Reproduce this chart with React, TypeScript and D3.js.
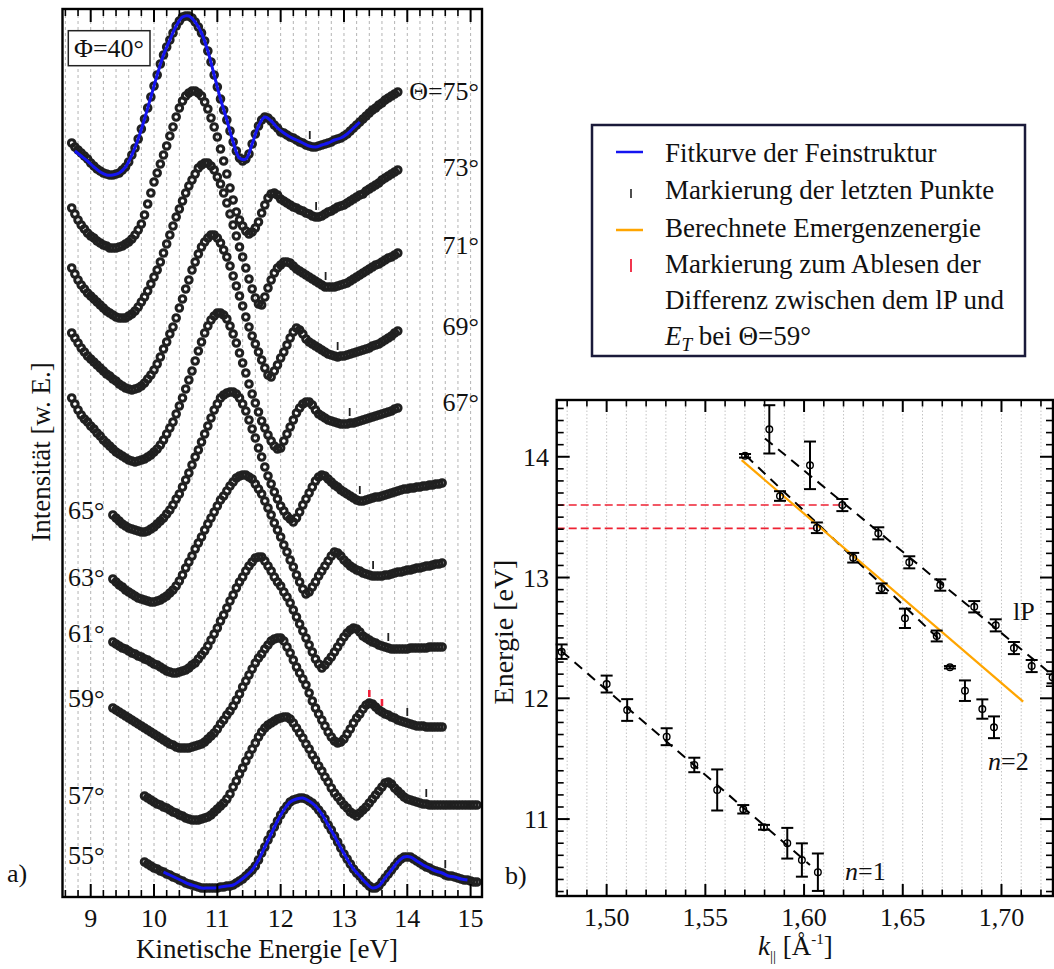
import React from 'react';
import * as d3 from 'd3';

// ---------------- Data: left panel (a) ----------------
const angleLabels = ['Θ=75°', '73°', '71°', '69°', '67°', '65°', '63°', '61°', '59°', '57°', '55°'];
const energyTicks = [9, 10, 11, 12, 13, 14, 15];
const curveStartE = [8.7, 8.7, 8.7, 8.7, 8.7, 9.35, 9.35, 9.35, 9.35, 9.85, 9.85];
const stepE = 0.05;

const c75 = [757,753,750,747,744,741,737,734,731,729,727,726,725,725,726,727,730,733,738,745,752,761,771,781,792,803,814,825,836,845,853,860,867,874,879,883,884,884,882,878,873,867,859,849,838,825,813,801,790,780,769,758,749,742,739,741,746,756,766,774,780,783,782,779,775,772,768,767,765,763,762,760,758,757,755,754,753,753,754,755,756,757,758,760,761,762,764,766,769,772,775,778,781,784,787,790,792,795,797,800,802,804,806,808];
const c73 = [692,686,680,675,671,667,664,662,659,657,655,654,652,652,652,653,654,656,658,661,665,670,676,685,696,707,718,727,736,745,754,764,773,783,792,799,804,807,809,809,807,804,798,791,782,773,763,751,739,726,712,700,688,680,674,669,666,668,672,678,687,695,702,706,707,705,701,699,697,695,693,692,690,689,687,686,684,683,683,684,686,688,689,691,693,694,695,697,699,701,703,705,706,709,711,713,715,717,720,722,724,726,728,730];
const c71 = [632,626,620,615,611,607,604,601,598,595,592,589,587,585,583,582,582,582,584,586,589,593,598,603,609,616,623,630,638,647,656,665,674,683,691,699,707,714,720,726,732,735,737,737,734,730,723,716,707,697,686,675,664,653,643,632,621,611,602,596,595,603,612,620,627,632,635,638,638,637,634,631,629,627,625,623,621,619,617,615,613,613,613,613,614,615,616,617,619,621,623,625,627,629,631,633,635,636,638,640,642,643,645,647];
const c69 = [567,562,557,552,548,544,541,538,535,532,529,526,524,521,519,516,514,512,511,510,511,512,514,517,521,525,530,536,543,551,558,566,573,582,592,601,611,620,630,638,646,653,658,662,665,665,662,657,650,643,634,624,614,604,594,583,573,564,556,548,540,532,525,523,529,535,542,548,555,562,568,572,570,566,561,558,556,554,552,550,548,546,545,544,543,544,544,545,546,547,548,549,550,551,552,554,555,556,558,560,562,564,567,569];
const c67 = [502,496,490,485,481,478,474,471,467,464,460,457,454,451,448,446,444,442,440,439,438,439,440,441,443,445,448,451,455,460,466,472,478,486,494,502,511,520,529,539,549,558,567,574,580,584,587,587,585,581,574,566,557,547,537,527,516,506,497,488,479,472,465,459,454,451,452,459,466,473,480,487,492,496,498,498,495,490,486,484,482,480,479,478,477,476,476,476,477,477,478,479,480,481,482,483,484,485,486,487,488,489,491,492];
const c65 = [385,382,379,376,374,372,371,370,369,368,368,369,371,373,376,379,382,386,390,395,401,406,413,420,427,435,443,450,458,466,474,482,490,496,502,505,507,508,508,506,502,496,489,480,471,462,452,443,433,424,416,408,401,394,389,384,381,378,382,388,395,401,407,413,419,423,425,424,421,418,415,413,410,408,406,404,402,400,399,399,400,401,402,403,403,404,405,406,407,408,409,410,411,411,412,412,413,413,414,414,415,415,416,416,417];
const c63 = [321,318,315,313,310,308,306,304,302,301,300,299,298,298,299,300,302,304,307,310,314,319,325,332,338,344,351,357,363,370,376,382,388,394,400,404,409,414,418,422,424,425,425,423,421,416,411,406,399,392,385,377,370,363,355,348,340,333,325,318,311,306,308,313,318,324,329,334,339,344,348,347,344,340,337,334,332,330,329,327,326,325,324,324,324,324,325,325,326,327,328,328,329,330,330,331,332,332,333,334,334,335,336,336,337];
const c61 = [258,256,254,252,251,249,247,246,244,243,241,240,238,236,235,233,231,229,228,227,227,228,229,230,232,235,237,241,245,249,254,260,266,272,279,285,292,299,305,312,318,323,329,334,338,342,343,343,339,334,329,323,318,314,308,303,297,290,283,276,269,262,255,248,241,236,232,235,239,243,248,253,258,263,267,270,272,271,268,264,262,260,258,257,255,254,253,252,251,251,251,251,251,251,252,252,252,252,252,252,253,253,253,253,253];
const c59 = [192,190,188,186,184,182,180,178,176,174,172,170,168,166,164,162,160,158,156,155,153,152,152,152,152,153,154,155,156,158,161,164,167,171,176,180,185,189,194,200,206,213,219,225,231,237,242,246,251,255,259,261,262,262,259,253,247,240,233,227,221,215,207,199,192,186,180,174,168,163,159,157,158,161,166,171,177,182,186,191,195,197,196,193,190,188,186,185,183,182,180,179,178,177,176,175,174,174,174,173,173,173,173,173,173];
const c57 = [104,102,100,98,96,95,93,92,90,88,87,85,84,82,81,80,80,80,81,82,83,85,88,91,94,97,101,106,113,119,126,132,139,145,151,157,163,168,172,175,177,179,181,182,183,183,181,177,172,167,162,156,151,145,140,134,129,123,118,112,107,103,99,95,92,88,86,84,87,90,93,97,101,105,109,113,117,118,116,112,109,106,103,101,100,99,98,97,96,96,95,95,95,95,95,95,95,95,95,95,95,95,95,95,95,95];
const c55 = [38,36,34,32,31,29,28,26,25,23,22,20,19,17,16,15,14,13,12,12,12,12,12,12,13,13,14,14,15,17,19,21,24,27,30,34,40,47,53,60,66,73,79,85,90,94,98,100,101,102,102,101,99,97,94,90,86,81,75,70,64,58,52,46,41,36,31,27,24,20,17,14,12,12,14,18,22,26,30,34,38,41,43,43,43,41,39,37,35,33,32,30,29,28,27,25,24,24,23,22,21,20,20,19,18,18];

const markerE = [12.46, 12.56, 12.71, 12.9, 13.09, 13.25, 13.46, 13.7, 14.0, 14.3, 14.6];
const redMarkE59 = [13.4, 13.6];

const fitStep = 0.1;
const fit75Start = 8.75;
const fit75 = [749,744,739,733,728,725,725,727,733,745,761,781,803,825,845,860,874,883,884,878,867,849,825,801,780,758,742,741,756,774,783,779,772,767,763,760,757,754,753,755,757,760,762,766,772,778];
const fit55Start = 10.15;
const fit55 = [28,25,22,19,16,14,12,12,12,13,14,15,19,24,30,40,53,66,79,90,98,101,102,99,94,86,75,64,52,41,31,24,17,12,14,22,30,38,43,43,39,35,32,29,27,24,23,21,20];

// ---------------- Data: right panel (b) ----------------
const kTicks = [1.5, 1.55, 1.6, 1.65, 1.7];
const eTicks = [11, 12, 13, 14];

const n1K = [1.4772, 1.5, 1.5104, 1.5304, 1.5444, 1.556, 1.5692, 1.5797, 1.5915, 1.5989, 1.607];
const n1E = [12.386, 12.118, 11.903, 11.682, 11.448, 11.241, 11.081, 10.932, 10.8, 10.661, 10.56];
const n1Err = [0.06, 0.07, 0.09, 0.07, 0.06, 0.17, 0.035, 0.02, 0.127, 0.138, 0.155];

const n2K = [1.5701, 1.5878, 1.6065, 1.6249, 1.6393, 1.6511, 1.6672, 1.6739, 1.6815, 1.6903, 1.6962];
const n2E = [14.008, 13.675, 13.412, 13.164, 12.911, 12.662, 12.516, 12.257, 12.063, 11.911, 11.76];
const n2Err = [0.015, 0.04, 0.044, 0.04, 0.04, 0.08, 0.045, 0.01, 0.085, 0.08, 0.09];

const lPK = [1.5824, 1.603, 1.6194, 1.6376, 1.6533, 1.669, 1.6862, 1.6971, 1.7063, 1.7153, 1.7259];
const lPE = [14.227, 13.929, 13.6, 13.366, 13.126, 12.938, 12.758, 12.604, 12.416, 12.267, 12.174];
const lPErr = [0.2, 0.197, 0.05, 0.05, 0.05, 0.047, 0.047, 0.05, 0.05, 0.05, 0.05];

const n1LineK = [1.4772, 1.603];
const n1LineE = [12.39, 10.62];
const n2LineK = [1.5705, 1.669];
const n2LineE = [14.01, 12.48];
const lPLineK = [1.5802, 1.726];
const lPLineE = [14.152, 12.19];
const emergK = [1.5684, 1.711];
const emergE = [13.972, 11.972];
const redLevelsE = [13.6, 13.407];
const redEndK = [1.6195, 1.6055];

const legendLabels = [
  'Fitkurve der Feinstruktur',
  'Markierung der letzten Punkte',
  'Berechnete Emergenzenergie',
  'Markierung zum Ablesen der',
  'Differenz zwischen dem lP und',
];

const FONT = "'Liberation Serif', 'Times New Roman', Times, serif";

export default function App() {
  const curves = [c75, c73, c71, c69, c67, c65, c63, c61, c59, c57, c55];

  const xL = d3.scaleLinear().domain([8.5545, 15.18]).range([62.5, 482]);
  const yL = d3.scaleLinear().domain([3, 891]).range([897, 9]);
  const xR = d3.scaleLinear().domain([1.4747, 1.7261]).range([556.7, 1053]);
  const yR = d3.scaleLinear().domain([10.363, 14.47]).range([896, 400]);

  const L = { x0: 62.5, x1: 482, y0: 9, y1: 897 };
  const R = { x0: 556.7, x1: 1053, y0: 400, y1: 896 };

  const gridL = d3.range(43, 76).map((i) => i * 0.2);
  const minorL = gridL.filter((v) => Math.abs(v - Math.round(v)) > 1e-6);
  const gridR = d3.range(148, 173).map((i) => i / 100);
  const minorRx = gridR.filter((v) => Math.round(v * 100) % 5 !== 0);
  const minorRy = d3.range(104, 145).map((i) => i / 10).filter((v) => Math.abs(v - Math.round(v)) > 1e-6);

  const fitLine = d3.line<number>().curve(d3.curveCatmullRom);

  const fitPath = (vals: number[], start: number) =>
    fitLine.x((_, i) => xL(start + i * fitStep)).y((v) => yL(v))(vals) || '';

  const valAt = (ci: number, e: number) => {
    const idx = Math.round((e - curveStartE[ci]) / stepE);
    const arr = curves[ci];
    return arr[Math.max(0, Math.min(arr.length - 1, idx))];
  };

  const rightLabelBase = [100, 176, 254, 335, 411];
  const leftLabelBase = [519, 586, 642, 707, 804, 864];

  const errSeries = [
    { k: n1K, e: n1E, err: n1Err },
    { k: n2K, e: n2E, err: n2Err },
    { k: lPK, e: lPE, err: lPErr },
  ];

  const fmtK = (v: number) => v.toFixed(2).replace('.', ',');

  return (
    <svg
      width={1054}
      height={969}
      style={{ position: 'absolute', left: 0, top: 0, background: '#fff' }}
      fontFamily={FONT}
    >
      <rect x={0} y={0} width={1054} height={969} fill="#fff" />

      {/* ---------- Left panel ---------- */}
      {gridL.map((v, i) => (
        <line key={'gl' + i} x1={xL(v)} x2={xL(v)} y1={L.y0} y2={L.y1} stroke="#b4b4b4" strokeWidth={1} strokeDasharray="3,3" />
      ))}

      {curves.map((vals, ci) => (
        <g key={'c' + ci}>
          {vals.map((v, i) => (
            <circle
              key={i}
              cx={xL(curveStartE[ci] + i * stepE)}
              cy={yL(v)}
              r={3.3}
              fill="none"
              stroke="#202020"
              strokeWidth={3}
            />
          ))}
        </g>
      ))}

      <path d={fitPath(fit75, fit75Start)} fill="none" stroke="#1414f0" strokeWidth={3} />
      <path d={fitPath(fit55, fit55Start)} fill="none" stroke="#1414f0" strokeWidth={3} />

      {markerE.map((e, ci) => {
        const y = yL(valAt(ci, e));
        return <line key={'m' + ci} x1={xL(e)} x2={xL(e)} y1={y - 15} y2={y - 7} stroke="#222" strokeWidth={1.8} />;
      })}
      {redMarkE59.map((e, i) => {
        const y = yL(valAt(8, e));
        return <line key={'r' + i} x1={xL(e)} x2={xL(e)} y1={y - 13} y2={y - 6} stroke="#f0203a" strokeWidth={2.6} />;
      })}

      {/* angle labels */}
      {angleLabels.slice(0, 5).map((t, i) => (
        <text key={'al' + i} x={479} y={rightLabelBase[i]} fontSize={26} textAnchor="end" fill="#111">
          {t}
        </text>
      ))}
      {angleLabels.slice(5).map((t, i) => (
        <text key={'al2' + i} x={68} y={leftLabelBase[i]} fontSize={26} fill="#111">
          {t}
        </text>
      ))}

      {/* Phi box */}
      <rect x={68.3} y={30.7} width={81.7} height={35} fill="#fff" stroke="#222" strokeWidth={1.5} />
      <text x={109} y={57} fontSize={26} textAnchor="middle" fill="#111">Φ=40°</text>

      {/* ticks left */}
      {energyTicks.map((v) => (
        <g key={'lt' + v}>
          <line x1={xL(v)} x2={xL(v)} y1={L.y1} y2={L.y1 - 13} stroke="#000" strokeWidth={2} />
          <line x1={xL(v)} x2={xL(v)} y1={L.y0} y2={L.y0 + 13} stroke="#000" strokeWidth={2} />
          <text x={xL(v)} y={927} fontSize={26} textAnchor="middle" fill="#111">{v}</text>
        </g>
      ))}
      {minorL.map((v, i) => (
        <g key={'lm' + i}>
          <line x1={xL(v)} x2={xL(v)} y1={L.y1} y2={L.y1 - 7} stroke="#000" strokeWidth={1.6} />
          <line x1={xL(v)} x2={xL(v)} y1={L.y0} y2={L.y0 + 7} stroke="#000" strokeWidth={1.6} />
        </g>
      ))}
      <rect x={L.x0} y={L.y0} width={L.x1 - L.x0} height={L.y1 - L.y0} fill="none" stroke="#000" strokeWidth={2.4} />

      <text x={267} y={958} fontSize={27} textAnchor="middle" fill="#111">Kinetische Energie [eV]</text>
      <text transform="translate(50,452) rotate(-90)" fontSize={27} textAnchor="middle" fill="#111">Intensität [w. E.]</text>
      <text x={7} y={882} fontSize={26} fill="#111">a)</text>

      {/* ---------- Legend ---------- */}
      <rect x={592} y={125} width={433} height={231} fill="#fff" stroke="#1a1a3a" strokeWidth={2.5} />
      <line x1={616} x2={643} y1={152} y2={152} stroke="#1414f0" strokeWidth={2.5} />
      <line x1={631} x2={631} y1={189} y2={198} stroke="#222" strokeWidth={1.6} />
      <line x1={616} x2={643} y1={230} y2={230} stroke="#ffa500" strokeWidth={2.5} />
      <line x1={631} x2={631} y1={259} y2={272} stroke="#f0203a" strokeWidth={1.8} />
      {legendLabels.map((t, i) => (
        <text key={'lg' + i} x={665} y={[162, 199, 237, 273, 309][i]} fontSize={27} fill="#111">{t}</text>
      ))}
      <text x={665} y={345} fontSize={27} fill="#111">
        <tspan fontStyle="italic">E</tspan>
        <tspan fontStyle="italic" fontSize={19} dy={6}>T</tspan>
        <tspan dy={-6}> bei Θ=59°</tspan>
      </text>

      {/* ---------- Right panel ---------- */}
      {gridR.map((v, i) => (
        <line key={'gr' + i} x1={xR(v)} x2={xR(v)} y1={R.y0} y2={R.y1} stroke="#c4c4c4" strokeWidth={1} strokeDasharray="1.5,2" />
      ))}

      {redLevelsE.map((e, i) => (
        <line key={'rl' + i} x1={R.x0} x2={xR(redEndK[i])} y1={yR(e)} y2={yR(e)} stroke="#ee2233" strokeWidth={1.6} strokeDasharray="8,4" />
      ))}

      {[
        [n1LineK, n1LineE],
        [n2LineK, n2LineE],
        [lPLineK, lPLineE],
      ].map(([ks, es], i) => (
        <line key={'dl' + i} x1={xR(ks[0])} y1={yR(es[0])} x2={xR(ks[1])} y2={yR(es[1])} stroke="#000" strokeWidth={2} strokeDasharray="10,7" />
      ))}

      <line x1={xR(emergK[0])} y1={yR(emergE[0])} x2={xR(emergK[1])} y2={yR(emergE[1])} stroke="#ffa500" strokeWidth={2.2} />

      {errSeries.map((s, si) => (
        <g key={'es' + si}>
          {s.k.map((k, i) => {
            const x = xR(k);
            const yT = yR(s.e[i] + s.err[i]);
            const yB = yR(s.e[i] - s.err[i]);
            return (
              <g key={i}>
                <line x1={x} x2={x} y1={yT} y2={yB} stroke="#000" strokeWidth={2} />
                <line x1={x - 6} x2={x + 6} y1={yT} y2={yT} stroke="#000" strokeWidth={2} />
                <line x1={x - 6} x2={x + 6} y1={yB} y2={yB} stroke="#000" strokeWidth={2} />
                <circle cx={x} cy={yR(s.e[i])} r={3.3} fill="none" stroke="#000" strokeWidth={1.4} />
              </g>
            );
          })}
        </g>
      ))}

      <text x={1013} y={620} fontSize={26} fill="#111">lP</text>
      <text x={988} y={770} fontSize={26} fill="#111">
        <tspan fontStyle="italic">n</tspan>=2
      </text>
      <text x={845} y={880} fontSize={26} fill="#111">
        <tspan fontStyle="italic">n</tspan>=1
      </text>

      {kTicks.map((v) => (
        <g key={'rt' + v}>
          <line x1={xR(v)} x2={xR(v)} y1={R.y1} y2={R.y1 - 12} stroke="#000" strokeWidth={2} />
          <line x1={xR(v)} x2={xR(v)} y1={R.y0} y2={R.y0 + 12} stroke="#000" strokeWidth={2} />
          <text x={xR(v)} y={926} fontSize={26} textAnchor="middle" fill="#111">{fmtK(v)}</text>
        </g>
      ))}
      {minorRx.map((v, i) => (
        <g key={'rmx' + i}>
          <line x1={xR(v)} x2={xR(v)} y1={R.y1} y2={R.y1 - 6.5} stroke="#000" strokeWidth={1.6} />
          <line x1={xR(v)} x2={xR(v)} y1={R.y0} y2={R.y0 + 6.5} stroke="#000" strokeWidth={1.6} />
        </g>
      ))}
      {eTicks.map((v) => (
        <g key={'ry' + v}>
          <line x1={R.x0} x2={R.x0 + 13} y1={yR(v)} y2={yR(v)} stroke="#000" strokeWidth={2} />
          <line x1={R.x1} x2={R.x1 - 13} y1={yR(v)} y2={yR(v)} stroke="#000" strokeWidth={2} />
          <text x={549} y={yR(v) + 9} fontSize={26} textAnchor="end" fill="#111">{v}</text>
        </g>
      ))}
      {minorRy.map((v, i) => (
        <g key={'rmy' + i}>
          <line x1={R.x0} x2={R.x0 + 7} y1={yR(v)} y2={yR(v)} stroke="#000" strokeWidth={1.6} />
          <line x1={R.x1} x2={R.x1 - 7} y1={yR(v)} y2={yR(v)} stroke="#000" strokeWidth={1.6} />
        </g>
      ))}
      <rect x={R.x0} y={R.y0} width={R.x1 - R.x0} height={R.y1 - R.y0} fill="none" stroke="#000" strokeWidth={2.4} />

      <text transform="translate(513,632) rotate(-90)" fontSize={28} textAnchor="middle" fill="#111">Energie [eV]</text>
      <text x={505} y={884} fontSize={26} fill="#111">b)</text>
      <text x={758} y={955} fontSize={27} fill="#111">
        <tspan fontStyle="italic">k</tspan>
        <tspan fontSize={15} dy={6}>||</tspan>
        <tspan dy={-6}> [Å</tspan>
        <tspan fontSize={15} dy={-11}>-1</tspan>
        <tspan dy={11}>]</tspan>
      </text>
    </svg>
  );
}
